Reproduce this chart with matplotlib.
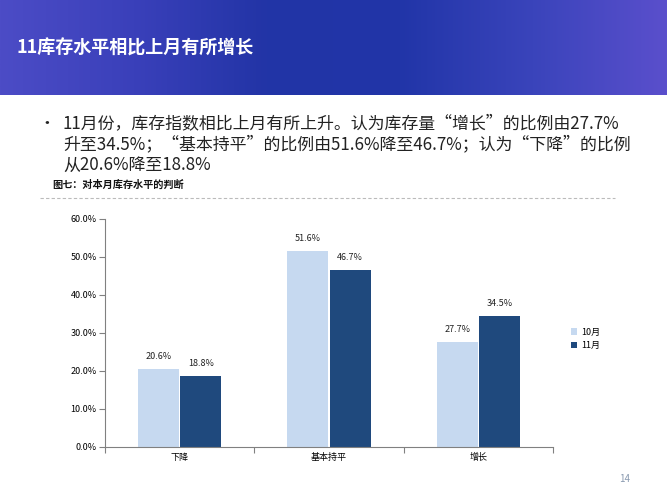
import matplotlib
matplotlib.use("Agg")
import matplotlib.pyplot as plt
import numpy as np
from matplotlib.colors import LinearSegmentedColormap

plt.rcParams['font.family'] = ['Noto Sans CJK SC', 'DejaVu Sans']

categories = ["下降", "基本持平", "增长"]
oct_vals = [20.6, 51.6, 27.7]
nov_vals = [18.8, 46.7, 34.5]
series_names = ["10月", "11月"]
yticks = [0, 10, 20, 30, 40, 50, 60]

title = "11库存水平相比上月有所增长"
bullet_lines = ["11月份，库存指数相比上月有所上升。认为库存量“增长”的比例由27.7%",
                "升至34.5%；“基本持平”的比例由51.6%降至46.7%；认为“下降”的比例",
                "从20.6%降至18.8%"]
caption = "图七：对本月库存水平的判断"

W, H = 667, 498
fig = plt.figure(figsize=(W/100, H/100), dpi=100)
fig.patch.set_facecolor("white")

# header band
hax = fig.add_axes([0, 1-95/H, 1, 95/H])
cmap = LinearSegmentedColormap.from_list("hdr", ["#4c4cc6", "#3a40ba", "#2234a6", "#2135a8", "#3a44bb", "#5a4fcc"])
grad = np.linspace(0, 1, 256).reshape(1, -1)
hax.imshow(grad, aspect="auto", cmap=cmap, extent=[0, 1, 0, 1])
hax.set_axis_off()
fig.text(17/W, 1-48/H, title, color="white", fontsize=13, fontweight="bold", va="center", ha="left")

# bullet text
fig.text(38/W, 1-123/H, "•", fontsize=12, va="center", ha="left", color="#222222")
for i, line in enumerate(bullet_lines):
    fig.text(63/W, 1-(123+21*i)/H, line, fontsize=12.2, va="center", ha="left", color="#222222")
fig.text(52/W, 1-185/H, caption, fontsize=7.3, fontweight="bold", va="center", ha="left", color="#111111")
fig.add_artist(plt.Line2D([40/W, 615/W], [1-198/H, 1-198/H], color="#bbbbbb", lw=0.8, ls=(0, (3, 2))))

# chart
left, right, bottom, top = 105, 553, 447, 219
ax = fig.add_axes([left/W, 1-bottom/H, (right-left)/W, (bottom-top)/H])
x = np.arange(len(categories))
bw = 0.275
off = 0.141
b1 = ax.bar(x - off, oct_vals, bw, color="#C6D9F0", label=series_names[0])
b2 = ax.bar(x + off, nov_vals, bw, color="#1F497D", label=series_names[1])
for bars, vals in ((b1, oct_vals), (b2, nov_vals)):
    for b, v in zip(bars, vals):
        ax.annotate(f"{v:.1f}%", (b.get_x()+b.get_width()/2, v), xytext=(0, 5.5), textcoords="offset points",
                    ha="center", va="bottom", fontsize=6.5, color="#222222")
ax.set_xlim(-0.5, 2.5)
ax.set_ylim(0, 60)
ax.set_yticks(yticks)
ax.set_yticklabels([f"{t:.1f}%" for t in yticks], fontsize=6.5)
ax.set_xticks([-0.5, 0.5, 1.5, 2.5])
ax.set_xticklabels([])
ax.set_xticks(x, minor=True)
ax.set_xticklabels(categories, minor=True, fontsize=6.5)
ax.tick_params(axis="x", which="minor", length=0, pad=4)
ax.tick_params(axis="x", which="major", length=4, color="#808080")
ax.tick_params(axis="y", length=4, color="#808080", pad=2)
for s in ("top", "right"):
    ax.spines[s].set_visible(False)
for s in ("left", "bottom"):
    ax.spines[s].set_color("#808080")
    ax.spines[s].set_linewidth(0.8)

ax.legend(loc="center left", bbox_to_anchor=(563/W, 1-339/H), bbox_transform=fig.transFigure,
          frameon=False, fontsize=6.5, handlelength=0.7, handleheight=0.7, handletextpad=0.4, labelspacing=0.5)

fig.text(625/W, 1-479/H, "14", fontsize=7, color="#8a9ab0", ha="center", va="center")

fig.savefig("out.png", dpi=100)
